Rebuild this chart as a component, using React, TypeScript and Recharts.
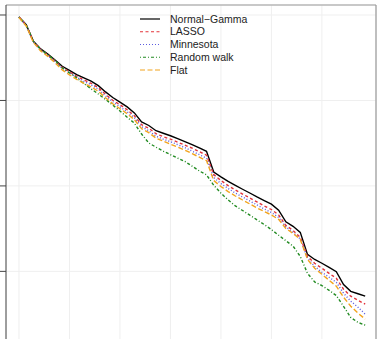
import React from "react"
import { LineChart, Line, XAxis, YAxis, CartesianGrid, Legend, ReferenceLine } from "recharts"

// cumulative score per model, one value per evaluation step
const normalGamma = [
	-2.3, -11.4, -30.7, -39.7, -45.7, -52.6, -60.0, -64.9, -69.8, -73.6,
	-77.4, -82.7, -90.0, -96.5, -102.0, -107.5, -114.6, -125.1, -129.3, -135.4,
	-138.4, -141.3, -144.6, -148.1, -151.6, -155.6, -159.5, -183.8, -189.4, -194.7,
	-199.3, -203.9, -208.3, -212.9, -217.1, -221.3, -228.3, -242.0, -247.3, -254.4,
	-280.1, -286.1, -290.5, -295.4, -300.4, -315.4, -323.4, -326.2, -329.0,
]
const lasso = [
	-2.3, -11.7, -30.9, -40.3, -46.7, -53.7, -61.3, -66.5, -71.8, -75.9,
	-79.9, -85.2, -92.8, -99.8, -105.0, -110.9, -117.9, -128.4, -132.5, -138.9,
	-142.4, -145.3, -148.8, -152.3, -155.8, -159.9, -164.0, -186.7, -193.7, -199.6,
	-204.8, -209.5, -214.1, -218.8, -223.5, -227.6, -234.0, -246.2, -252.1, -260.2,
	-282.4, -290.6, -296.4, -302.3, -308.1, -320.9, -329.1, -333.8, -338.4,
]
const minnesota = [
	-2.3, -12.3, -31.5, -40.8, -47.3, -54.8, -62.4, -67.7, -72.9, -77.6,
	-81.7, -86.9, -94.5, -101.5, -107.4, -113.2, -120.2, -130.7, -135.4, -141.8,
	-145.3, -148.2, -151.7, -155.2, -159.3, -163.4, -167.5, -190.2, -197.2, -203.1,
	-208.3, -213.0, -217.6, -222.3, -227.0, -231.1, -236.9, -248.0, -254.4, -262.0,
	-284.7, -294.1, -301.1, -306.9, -312.8, -325.6, -334.9, -341.9, -350.1,
]
const randomWalk = [
	-2.3, -11.7, -30.9, -40.3, -46.7, -53.1, -61.9, -67.7, -73.5, -80.2,
	-86.4, -92.5, -98.8, -105.3, -112.3, -119.6, -126.6, -139.3, -149.8, -154.7,
	-159.3, -163.4, -167.5, -171.4, -176.8, -182.5, -187.0, -199.2, -208.5, -216.4,
	-223.4, -228.8, -234.2, -239.7, -245.2, -251.1, -257.7, -264.1, -270.5, -282.5,
	-302.3, -312.4, -316.6, -322.2, -328.3, -340.9, -353.9, -359.7, -362.9,
]
const flat = [
	-2.9, -12.8, -32.1, -42.0, -48.4, -56.0, -64.2, -70.0, -75.3, -79.9,
	-84.0, -89.3, -96.9, -103.9, -109.7, -115.5, -122.5, -133.0, -137.7, -144.1,
	-147.6, -151.1, -154.6, -158.1, -162.2, -166.3, -170.4, -193.7, -200.7, -206.6,
	-211.8, -216.5, -221.1, -225.8, -229.9, -234.0, -239.2, -249.7, -255.6, -262.6,
	-285.9, -296.4, -303.4, -310.4, -317.4, -330.3, -340.8, -348.9, -355.9,
]

const yTicks = [0, -100, -200, -300]
const xGrid = [1, 8, 15, 22, 29, 36, 43]
const xDomain: [number, number] = [-0.8, 50.5]
const yDomain: [number, number] = [-385, 11.7]

const series = [
	{ key: "ng", name: "Normal\u2212Gamma", values: normalGamma, color: "#000000", dash: undefined },
	{ key: "lasso", name: "LASSO", values: lasso, color: "#E3343A", dash: "3 2.5" },
	{ key: "minn", name: "Minnesota", values: minnesota, color: "#5C5CE0", dash: "1 2" },
	{ key: "rw", name: "Random walk", values: randomWalk, color: "#228B22", dash: "1 2 3 2" },
	{ key: "flat", name: "Flat", values: flat, color: "#F2A41E", dash: "5 2.5" },
]

const data = normalGamma.map((_, i) => {
	const row: Record<string, number> = { step: i + 1 }
	series.forEach((s) => {
		row[s.key] = s.values[i]
	})
	return row
})

const renderLegend = () => (
	<svg width={120} height={66}>
		{series.map((s, i) => (
			<g key={s.key} transform={`translate(0, ${8 + i * 12.75})`}>
				<line x1={2} x2={22} y1={0} y2={0} stroke={s.color} strokeWidth={1.2} strokeDasharray={s.dash} />
				<text x={32} y={0} dy="0.35em" fontSize={10.5} fill="#222" fontFamily="'Liberation Sans', Arial, sans-serif">
					{s.name}
				</text>
			</g>
		))}
	</svg>
)

// tick labels sit outside the visible area, only the tick marks are kept
const noLabel = () => <g />

const App: React.FC = () => {
	return (
		<div style={{ position: "absolute", left: 0, top: 0, width: 381, height: 339, overflow: "hidden", background: "#fff" }}>
			<LineChart width={381} height={350} data={data} margin={{ top: 5, right: 5, bottom: 5, left: 0 }}>
				<CartesianGrid stroke="#efefef" strokeWidth={1} />
				<XAxis
					dataKey="step"
					type="number"
					domain={xDomain}
					ticks={xGrid}
					tick={noLabel}
					tickLine={false}
					axisLine={false}
					height={1}
				/>
				<YAxis
					type="number"
					domain={yDomain}
					ticks={yTicks}
					tick={noLabel}
					tickSize={6}
					tickLine={{ stroke: "#444" }}
					axisLine={{ stroke: "#444" }}
					width={6}
					allowDataOverflow
				/>
				{/* box edges on top and right */}
				<ReferenceLine y={yDomain[1]} stroke="#999" strokeWidth={1.2} />
				<ReferenceLine x={xDomain[1]} stroke="#999" strokeWidth={1.2} />
				<Legend
					content={renderLegend}
					layout="vertical"
					align="center"
					verticalAlign="middle"
					wrapperStyle={{ top: 11, left: 138, width: 120 }}
				/>
				{series.map((s) => (
					<Line
						key={s.key}
						dataKey={s.key}
						name={s.name}
						type="linear"
						stroke={s.color}
						strokeWidth={1.4}
						strokeDasharray={s.dash}
						dot={false}
						activeDot={false}
						isAnimationActive={false}
					/>
				))}
			</LineChart>
		</div>
	)
}

export default App
